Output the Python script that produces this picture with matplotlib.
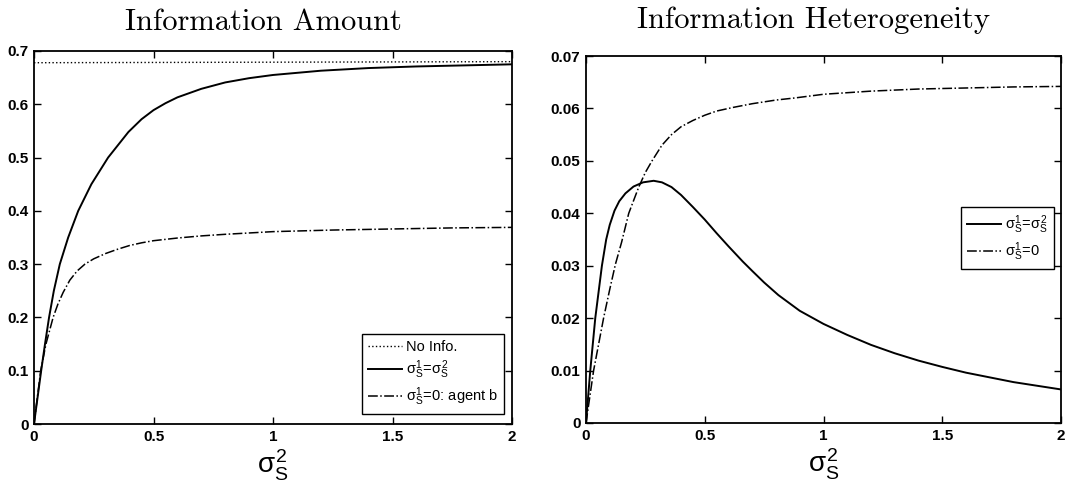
import numpy as np
import matplotlib
matplotlib.use("Agg")
import matplotlib.pyplot as plt

plt.rcParams['font.family'] = ['Liberation Sans', 'DejaVu Sans']
plt.rcParams['mathtext.fontset'] = 'custom'
plt.rcParams['mathtext.rm'] = 'Liberation Sans'
plt.rcParams['mathtext.it'] = 'Liberation Sans'

# Information Amount (left)
amt_noinfo_x = [0, 2.0]
amt_noinfo_y = [0.678, 0.680]
amt_eq_x = [0, 0.015, 0.03, 0.046, 0.063, 0.083, 0.108, 0.143, 0.185, 0.24, 0.31, 0.395,
            0.45, 0.5, 0.55, 0.6, 0.7, 0.8, 0.9, 1.0, 1.1, 1.2, 1.4, 1.6, 1.8, 2.0]
amt_eq_y = [0, 0.05, 0.1, 0.15, 0.2, 0.25, 0.3, 0.35, 0.4, 0.45, 0.5, 0.548,
            0.572, 0.589, 0.602, 0.613, 0.629, 0.641, 0.649, 0.655, 0.659, 0.663, 0.668,
            0.671, 0.673, 0.675]
amt_b_x = [0, 0.028, 0.05, 0.08, 0.1, 0.122, 0.15, 0.18, 0.213, 0.25, 0.3, 0.35, 0.4, 0.45,
           0.5, 0.6, 0.7, 0.8, 1.0, 1.25, 1.5, 1.75, 2.0]
amt_b_y = [0, 0.1, 0.15, 0.2, 0.225, 0.247, 0.27, 0.287, 0.3, 0.31, 0.32, 0.328, 0.335, 0.34,
           0.344, 0.349, 0.353, 0.356, 0.361, 0.364, 0.366, 0.368, 0.369]

# Information Heterogeneity (right)
het_eq_x = [0, 0.018, 0.039, 0.067, 0.085, 0.1, 0.12, 0.14, 0.166, 0.2, 0.24, 0.285, 0.32,
            0.36, 0.4, 0.45, 0.5, 0.55, 0.6, 0.66, 0.7, 0.75, 0.81, 0.9, 1.0, 1.1, 1.2, 1.3,
            1.4, 1.5, 1.6, 1.7, 1.8, 1.9, 2.0]
het_eq_y = [0, 0.01, 0.02, 0.03, 0.035, 0.0378, 0.0405, 0.0423, 0.0438, 0.0451, 0.0459,
            0.0462, 0.0459, 0.045, 0.0435, 0.0412, 0.0388, 0.0362, 0.0337, 0.0308, 0.029,
            0.0268, 0.0244, 0.0214, 0.0189, 0.0168, 0.0149, 0.0133, 0.0119, 0.0107, 0.0096,
            0.0087, 0.0078, 0.0071, 0.0064]
het_zero_x = [0, 0.032, 0.074, 0.1, 0.124, 0.15, 0.18, 0.222, 0.25, 0.278, 0.32, 0.36, 0.4,
              0.45, 0.5, 0.55, 0.62, 0.7, 0.8, 0.88, 1.0, 1.2, 1.4, 1.6, 1.8, 2.0]
het_zero_y = [0, 0.01, 0.02, 0.0255, 0.0303, 0.0345, 0.04, 0.045, 0.0478, 0.05, 0.053, 0.055,
              0.0565, 0.0577, 0.0587, 0.0595, 0.0602, 0.0609, 0.0616, 0.062, 0.0627, 0.0633,
              0.0637, 0.0639, 0.0641, 0.0642]

xticks = [0, 0.5, 1, 1.5, 2]
xticklabels = ['0', '0.5', '1', '1.5', '2']

fig = plt.figure(figsize=(10.65, 4.87), dpi=100)
ax1 = fig.add_axes([34/1065, 1 - 424/487, 478/1065, 373/487])
ax2 = fig.add_axes([586/1065, 1 - 423/487, 475/1065, 367/487])

lab_eq = r'$\sigma_S^1\!=\!\sigma_S^2$'

ax1.plot(amt_noinfo_x, amt_noinfo_y, color='black', linestyle=':', linewidth=1, label='No Info.')
ax1.plot(amt_eq_x, amt_eq_y, color='black', linestyle='-', linewidth=1.4, label=lab_eq)
ax1.plot(amt_b_x, amt_b_y, color='black', linestyle='-.', linewidth=1.1,
         label=r'$\sigma_S^1\!=\!0$: agent b')
ax1.set_ylim(0, 0.7)
ax1.set_yticks(np.arange(0, 0.71, 0.1))
ax1.set_yticklabels(['0', '0.1', '0.2', '0.3', '0.4', '0.5', '0.6', '0.7'])
ax1.set_title('Information Amount', family='cmr10', fontsize=22, pad=15, x=0.48)
ax1.legend(loc='lower right', bbox_to_anchor=(0.983, 0.027), borderaxespad=0, fontsize=10.5,
           frameon=True, fancybox=False, edgecolor='black', framealpha=1,
           handlelength=2.3, handletextpad=0.3, labelspacing=0.3)

ax2.plot(het_eq_x, het_eq_y, color='black', linestyle='-', linewidth=1.4, label=lab_eq)
ax2.plot(het_zero_x, het_zero_y, color='black', linestyle='-.', linewidth=1.1,
         label=r'$\sigma_S^1\!=\!0$')
ax2.set_ylim(0, 0.07)
ax2.set_yticks(np.arange(0, 0.071, 0.01))
ax2.set_yticklabels(['0', '0.01', '0.02', '0.03', '0.04', '0.05', '0.06', '0.07'])
ax2.set_title('Information Heterogeneity', family='cmr10', fontsize=22, pad=20, x=0.48)
ax2.legend(loc='center right', bbox_to_anchor=(0.985, 0.504), borderaxespad=0, fontsize=10.5,
           frameon=True, fancybox=False, edgecolor='black', framealpha=1,
           handlelength=2.3, handletextpad=0.3, labelspacing=0.3)

for ax in (ax1, ax2):
    ax.set_xlim(0, 2)
    ax.set_xticks(xticks)
    ax.set_xticklabels(xticklabels)
    ax.tick_params(direction='in', top=True, right=True, length=5, width=1, labelsize=11, pad=4)
    for lbl in ax.get_xticklabels() + ax.get_yticklabels():
        lbl.set_fontweight('bold')
    for sp in ax.spines.values():
        sp.set_linewidth(1.3)
    ax.set_xlabel(r'$\sigma_S^2$', fontsize=20, labelpad=3)

fig.savefig('out.png', dpi=100)
